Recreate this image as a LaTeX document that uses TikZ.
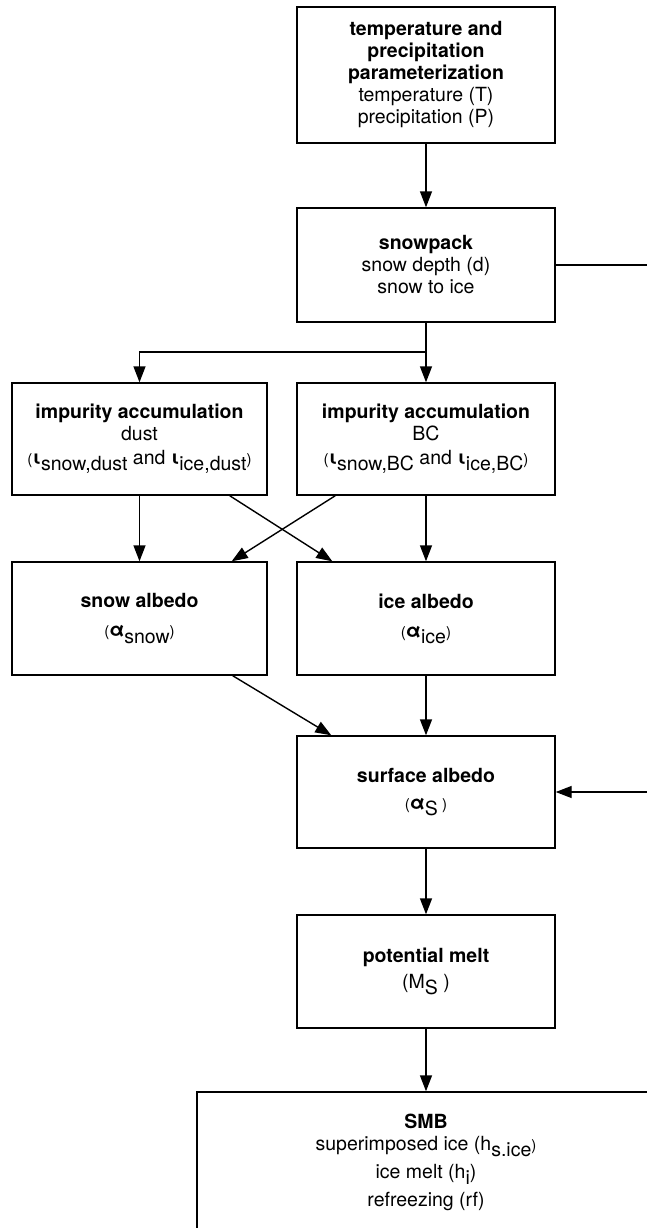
\documentclass[tikz,border=0pt]{standalone}
\usepackage{fontspec}
\setmainfont{TeX Gyre Heros}
\usetikzlibrary{arrows.meta,calc}
\newcommand{\lowr}[1]{\raisebox{-0.32em}{#1}}
\newcommand{\smp}[1]{{\fontsize{15}{15}\selectfont #1}}
\begin{document}
\begin{tikzpicture}[x=1pt,y=-1pt,
  box/.style={draw,line width=1.4pt,minimum width=258pt,align=center,inner sep=0pt,
    font=\fontsize{19.5}{22}\selectfont},
  arr/.style={line width=1.4pt,-{Triangle[length=16pt,width=12pt]}},
  ln/.style={line width=1.4pt}]
\clip (0,0) rectangle (647,1228);
\node[box,minimum height=136pt] (tp) at (426,75)
  {\textbf{temperature and}\\\textbf{precipitation}\\\textbf{parameterization}\\temperature (T)\\precipitation (P)};
\node[box,minimum height=114pt] (sp) at (426,265)
  {\textbf{snowpack}\\snow depth (d)\\snow to ice};
\node[box,minimum width=255pt,minimum height=112pt] (impL) at (139.5,439)
  {\textbf{impurity accumulation}\\dust\\[2pt]\smp{(}\textbf{ι}\lowr{snow,dust} and \textbf{ι}\lowr{ice,dust}\smp{)}};
\node[box,minimum height=112pt] (impR) at (426,439)
  {\textbf{impurity accumulation}\\BC\\[2pt]\smp{(}\textbf{ι}\lowr{snow,BC} and \textbf{ι}\lowr{ice,BC}\smp{)}};
\node[box,minimum width=255pt,minimum height=113pt] (albL) at (139.5,618.5)
  {\textbf{snow albedo}\\[7pt]\smp{(}\textbf{α}\lowr{snow}\smp{)}};
\node[box,minimum height=113pt] (albR) at (426,618.5)
  {\textbf{ice albedo}\\[7pt]\smp{(}\textbf{α}\lowr{ice}\smp{)}};
\node[box,minimum height=112pt] (sa) at (426,792)
  {\textbf{surface albedo}\\[5pt]\smp{(}\textbf{α}\lowr{S}\smp{ )}};
\node[box,minimum height=113pt] (pm) at (426,971.5)
  {\textbf{potential melt}\\[4pt](M\lowr{S} )};
\node[box,minimum width=458pt,minimum height=140pt] (smb) at (426,1162)
  {\textbf{SMB}\\superimposed ice (h\lowr{s.ice}\smp{)}\\[6pt]ice melt (h\lowr{i})\\[6pt]refreezing (rf)};
\coordinate (split) at (426,352);
\coordinate (fb) at (670,265);
\draw[arr] (tp.south) -- (sp.north);
\draw[ln] (sp.south) -- (split);
\draw[arr] (split) -| (impL.north);
\draw[arr] (split) -- (impR.north);
\draw[arr] (impL.south) -- (albL.north);
\draw[arr] (impR.south) -- (albR.north);
\draw[arr] ($(impL.south east)+(-38,0)$) -- ($(albR.north west)+(36,0)$);
\draw[arr] ($(impR.south west)+(39,0)$) -- ($(albL.north east)+(-36,0)$);
\draw[arr] ($(albL.south east)+(-35,0)$) -- ($(sa.north west)+(35,0)$);
\draw[arr] (albR.south) -- (sa.north);
\draw[arr] (sp.east) -- (sp.east -| fb) |- (sa.east);
\draw[arr] (sa.south) -- (pm.north);
\draw[arr] (pm.south) -- (smb.north);
\end{tikzpicture}
\end{document}
